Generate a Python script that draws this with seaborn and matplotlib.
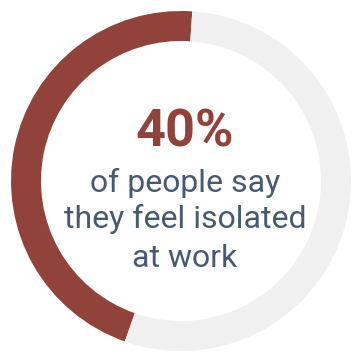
import matplotlib
matplotlib.use("Agg")
import matplotlib.pyplot as plt
import seaborn as sns

# data
labels = ["Feel isolated", "Other"]
shares = [45.7, 54.3]
headline = "40%"
caption_lines = ["of people say", "they feel isolated", "at work"]

colors = ["#91423b", "#f0f0f0"]
text_color = "#475a72"

sns.set_theme(style="white")
plt.rcParams["font.family"] = ["Roboto", "DejaVu Sans"]

fig = plt.figure(figsize=(3.53, 3.54), dpi=100)
fig.patch.set_facecolor("white")
ax = fig.add_axes([0, 0, 1, 1])

cx, cy, r, w = 181, 354 - 181, 170, 30
ax.pie(shares, colors=colors, startangle=86.2, counterclock=True,
       center=(cx, cy), radius=r,
       wedgeprops=dict(width=w, linewidth=0, antialiased=True))
ax.set_xlim(0, 353)
ax.set_ylim(0, 354)
ax.set_axis_off()

tx = 185
ax.text(tx, 354 - 146.7, headline, ha="center", va="baseline",
        fontsize=37.5, fontweight="bold", color=colors[0])
for base, line in zip([191.7, 228.5, 266.7], caption_lines):
    ax.text(tx, 354 - base, line, ha="center", va="baseline",
            fontsize=23, color=text_color)

fig.savefig("out.png", dpi=100, facecolor="white")
